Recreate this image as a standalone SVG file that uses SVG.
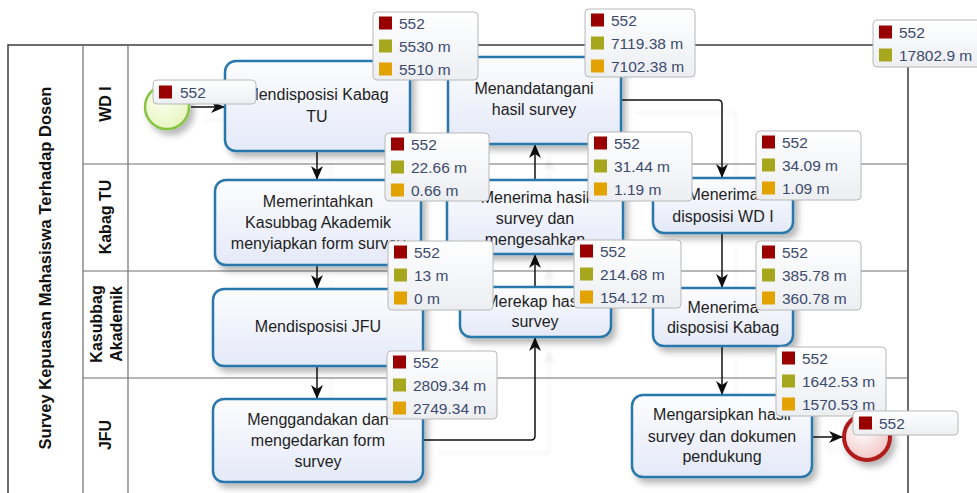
<svg xmlns="http://www.w3.org/2000/svg" width="977" height="493" viewBox="0 0 977 493">
  <defs>
    <linearGradient id="taskFill" x1="0" y1="0" x2="0" y2="1">
      <stop offset="0" stop-color="#fdfdff"/>
      <stop offset="1" stop-color="#e4e9f8"/>
    </linearGradient>
    <linearGradient id="statFill" x1="0" y1="0" x2="0" y2="1">
      <stop offset="0" stop-color="#ffffff"/>
      <stop offset="1" stop-color="#eceef2"/>
    </linearGradient>
    <radialGradient id="startFill" cx="0.4" cy="0.35" r="0.7">
      <stop offset="0" stop-color="#fdfff0"/>
      <stop offset="1" stop-color="#e6f5bd"/>
    </radialGradient>
    <radialGradient id="endFill" cx="0.4" cy="0.35" r="0.7">
      <stop offset="0" stop-color="#ffffff"/>
      <stop offset="1" stop-color="#f3c3c3"/>
    </radialGradient>
    <filter id="shadow" x="-20%" y="-20%" width="150%" height="160%">
      <feDropShadow dx="4" dy="5" stdDeviation="3" flood-color="#000" flood-opacity="0.28"/>
    </filter>
    <filter id="ghost" x="-20%" y="-20%" width="150%" height="150%">
      <feDropShadow dx="14" dy="13" stdDeviation="1.5" flood-color="#000" flood-opacity="0.06"/>
    </filter>
    <marker id="arrow" viewBox="0 0 14 12" refX="14" refY="6" markerWidth="14" markerHeight="12" markerUnits="userSpaceOnUse" orient="auto">
      <path d="M0,0 L14,6 L0,12 L4,6 Z" fill="#111"/>
    </marker>
    <style>
      .pool-line { stroke:#3c3c3c; stroke-width:1.5; fill:none; }
      .lane-line { stroke:#6e6e6e; stroke-width:1.2; fill:none; }
      .title { font-family:"Liberation Sans", Arial, sans-serif; font-weight:bold; font-size:16px; fill:#111; text-anchor:middle; }
      .pool-title { font-size:16.5px; }
      .task rect { fill:url(#taskFill); stroke:#2a77ab; stroke-width:2.5; filter:url(#shadow); }
      .task text { font-family:"Liberation Sans", Arial, sans-serif; font-size:16px; fill:#1e1e1e; text-anchor:middle; }
      .flow { stroke:#111; stroke-width:1.5; fill:none; marker-end:url(#arrow); }
      .stat rect.box { fill:url(#statFill); stroke:#b8b8b8; stroke-width:1; }
      .stat text { font-family:"Liberation Sans", Arial, sans-serif; font-size:15.5px; fill:#3c4a6e; }
      .sq-count { fill:#990000; }
      .sq-total { fill:#a7a71e; }
      .sq-avg { fill:#e2a300; }
    </style>
  </defs>

  <rect width="977" height="493" fill="#ffffff"/>

  <!-- pool and lanes -->
  <g id="pool">
    <path class="pool-line" d="M8,493 V45 H908 V493"/>
    <path class="lane-line" d="M83,45 V493 M128,45 V493"/>
    <path class="lane-line" d="M83,164 H908 M83,271 H908 M83,378 H908"/>
    <text class="title pool-title" transform="translate(45,268) rotate(-90)" y="6">Survey Kepuasan Mahasiswa Terhadap Dosen</text>
  </g>
  <g id="lane-wd1"><text class="title" transform="translate(105,104) rotate(-90)" y="6">WD I</text></g>
  <g id="lane-kabag-tu"><text class="title" transform="translate(105,217) rotate(-90)" y="6">Kabag TU</text></g>
  <g id="lane-kasubbag">
    <text class="title" transform="translate(96,324) rotate(-90)" y="6">Kasubbag</text>
    <text class="title" transform="translate(116,324) rotate(-90)" y="6">Akademik</text>
  </g>
  <g id="lane-jfu"><text class="title" transform="translate(105,435) rotate(-90)" y="6">JFU</text></g>

  <!-- sequence flows -->
  <g id="connectors">
    <g filter="url(#ghost)">
      <path class="flow" d="M191,107 H225"/>
      <path class="flow" d="M317,151 V180"/>
      <path class="flow" d="M317,265 V289"/>
      <path class="flow" d="M317,366 V399"/>
      <path class="flow" d="M423,440 H531 Q535,440 535,436 V337"/>
      <path class="flow" d="M535,287 V254"/>
      <path class="flow" d="M535,180 V144"/>
      <path class="flow" d="M621,100 H718 Q722,100 722,104 V178"/>
      <path class="flow" d="M722,233 V288"/>
      <path class="flow" d="M722,346 V395"/>
      <path class="flow" d="M812,437 H843"/>
    </g>
  </g>

  <!-- events -->
  <g id="start">
    <circle cx="167" cy="107" r="22" fill="url(#startFill)" stroke="#86c443" stroke-width="2.5" filter="url(#shadow)"/>
  </g>
  <g id="end">
    <circle cx="867" cy="437" r="23" fill="url(#endFill)" stroke="#b01c1c" stroke-width="4" filter="url(#shadow)"/>
  </g>

  <!-- tasks -->
  <g id="task-disposisi-kabag-tu" class="task">
    <rect x="225" y="61" width="185" height="90" rx="11"/>
    <text x="317" y="100">Mendisposisi Kabag</text>
    <text x="317" y="122">TU</text>
  </g>
  <g id="task-memerintahkan" class="task">
    <rect x="215" y="180" width="206" height="85" rx="11"/>
    <text x="318" y="207">Memerintahkan</text>
    <text x="318" y="228">Kasubbag Akademik</text>
    <text x="318" y="249">menyiapkan form survey</text>
  </g>
  <g id="task-disposisi-jfu" class="task">
    <rect x="213" y="289" width="210" height="77" rx="11"/>
    <text x="318" y="332">Mendisposisi JFU</text>
  </g>
  <g id="task-menggandakan" class="task">
    <rect x="213" y="399" width="210" height="83" rx="11"/>
    <text x="318" y="425">Menggandakan dan</text>
    <text x="318" y="446">mengedarkan form</text>
    <text x="318" y="467">survey</text>
  </g>
  <g id="task-menandatangani" class="task">
    <rect x="448" y="57" width="173" height="87" rx="11"/>
    <text x="534" y="94">Menandatangani</text>
    <text x="534" y="115">hasil survey</text>
  </g>
  <g id="task-menerima-hasil" class="task">
    <rect x="447" y="180" width="176" height="74" rx="11"/>
    <text x="535" y="203">Menerima hasil</text>
    <text x="535" y="224">survey dan</text>
    <text x="535" y="245">mengesahkan</text>
  </g>
  <g id="task-merekap" class="task">
    <rect x="460" y="287" width="151" height="50" rx="11"/>
    <text x="535" y="307">Merekap hasil</text>
    <text x="535" y="327">survey</text>
  </g>
  <g id="task-terima-wd1" class="task">
    <rect x="653" y="178" width="140" height="55" rx="11"/>
    <text x="723" y="200">Menerima</text>
    <text x="723" y="222">disposisi WD I</text>
  </g>
  <g id="task-terima-kabag" class="task">
    <rect x="653" y="288" width="140" height="58" rx="11"/>
    <text x="723" y="313">Menerima</text>
    <text x="723" y="333">disposisi Kabag</text>
  </g>
  <g id="task-mengarsipkan" class="task">
    <rect x="632" y="395" width="180" height="82" rx="11"/>
    <text x="722" y="420">Mengarsipkan hasil</text>
    <text x="722" y="442">survey dan dokumen</text>
    <text x="722" y="462">pendukung</text>
  </g>

  <!-- simulation statistics -->
  <g id="stat-start" class="stat" transform="translate(153,80)">
    <rect class="box" width="103" height="24" rx="4"/>
    <rect class="sq-count" x="6" y="5.5" width="13" height="13"/>
    <text x="27" y="17.5">552</text>
  </g>
  <g id="stat-disposisi-kabag-tu" class="stat" transform="translate(373,12)">
    <rect class="box" width="105" height="68" rx="4"/>
    <rect class="sq-count" x="6" y="4.5" width="13" height="13"/>
    <rect class="sq-total" x="6" y="27.5" width="13" height="13"/>
    <rect class="sq-avg" x="6" y="50.5" width="13" height="13"/>
    <text x="26" y="16.5">552</text>
    <text x="26" y="39.5">5530 m</text>
    <text x="26" y="62.5">5510 m</text>
  </g>
  <g id="stat-menandatangani" class="stat" transform="translate(585,9)">
    <rect class="box" width="110" height="68" rx="4"/>
    <rect class="sq-count" x="6" y="4.5" width="13" height="13"/>
    <rect class="sq-total" x="6" y="27.5" width="13" height="13"/>
    <rect class="sq-avg" x="6" y="50.5" width="13" height="13"/>
    <text x="26" y="16.5">552</text>
    <text x="26" y="39.5">7119.38 m</text>
    <text x="26" y="62.5">7102.38 m</text>
  </g>
  <g id="stat-process" class="stat" transform="translate(873,20)">
    <rect class="box" width="108" height="47" rx="4"/>
    <rect class="sq-count" x="6" y="5.5" width="13" height="13"/>
    <rect class="sq-total" x="6" y="28.5" width="13" height="13"/>
    <text x="26" y="17.5">552</text>
    <text x="26" y="40.5">17802.9 m</text>
  </g>
  <g id="stat-memerintahkan" class="stat" transform="translate(385,133)">
    <rect class="box" width="104" height="68" rx="4"/>
    <rect class="sq-count" x="6" y="4.5" width="13" height="13"/>
    <rect class="sq-total" x="6" y="27.5" width="13" height="13"/>
    <rect class="sq-avg" x="6" y="50.5" width="13" height="13"/>
    <text x="26" y="16.5">552</text>
    <text x="26" y="39.5">22.66 m</text>
    <text x="26" y="62.5">0.66 m</text>
  </g>
  <g id="stat-menerima-hasil" class="stat" transform="translate(588,132)">
    <rect class="box" width="104" height="69" rx="4"/>
    <rect class="sq-count" x="6" y="4.5" width="13" height="13"/>
    <rect class="sq-total" x="6" y="27.5" width="13" height="13"/>
    <rect class="sq-avg" x="6" y="50.5" width="13" height="13"/>
    <text x="26" y="16.5">552</text>
    <text x="26" y="39.5">31.44 m</text>
    <text x="26" y="62.5">1.19 m</text>
  </g>
  <g id="stat-terima-wd1" class="stat" transform="translate(756,131)">
    <rect class="box" width="105" height="69" rx="4"/>
    <rect class="sq-count" x="6" y="4.5" width="13" height="13"/>
    <rect class="sq-total" x="6" y="27.5" width="13" height="13"/>
    <rect class="sq-avg" x="6" y="50.5" width="13" height="13"/>
    <text x="26" y="16.5">552</text>
    <text x="26" y="39.5">34.09 m</text>
    <text x="26" y="62.5">1.09 m</text>
  </g>
  <g id="stat-disposisi-jfu" class="stat" transform="translate(388,241)">
    <rect class="box" width="105" height="69" rx="4"/>
    <rect class="sq-count" x="6" y="4.5" width="13" height="13"/>
    <rect class="sq-total" x="6" y="27.5" width="13" height="13"/>
    <rect class="sq-avg" x="6" y="50.5" width="13" height="13"/>
    <text x="26" y="16.5">552</text>
    <text x="26" y="39.5">13 m</text>
    <text x="26" y="62.5">0 m</text>
  </g>
  <g id="stat-merekap" class="stat" transform="translate(574,240)">
    <rect class="box" width="107" height="68" rx="4"/>
    <rect class="sq-count" x="6" y="4.5" width="13" height="13"/>
    <rect class="sq-total" x="6" y="27.5" width="13" height="13"/>
    <rect class="sq-avg" x="6" y="50.5" width="13" height="13"/>
    <text x="26" y="16.5">552</text>
    <text x="26" y="39.5">214.68 m</text>
    <text x="26" y="62.5">154.12 m</text>
  </g>
  <g id="stat-terima-kabag" class="stat" transform="translate(756,241)">
    <rect class="box" width="105" height="69" rx="4"/>
    <rect class="sq-count" x="6" y="4.5" width="13" height="13"/>
    <rect class="sq-total" x="6" y="27.5" width="13" height="13"/>
    <rect class="sq-avg" x="6" y="50.5" width="13" height="13"/>
    <text x="26" y="16.5">552</text>
    <text x="26" y="39.5">385.78 m</text>
    <text x="26" y="62.5">360.78 m</text>
  </g>
  <g id="stat-menggandakan" class="stat" transform="translate(387,351)">
    <rect class="box" width="110" height="68" rx="4"/>
    <rect class="sq-count" x="6" y="4.5" width="13" height="13"/>
    <rect class="sq-total" x="6" y="27.5" width="13" height="13"/>
    <rect class="sq-avg" x="6" y="50.5" width="13" height="13"/>
    <text x="26" y="16.5">552</text>
    <text x="26" y="39.5">2809.34 m</text>
    <text x="26" y="62.5">2749.34 m</text>
  </g>
  <g id="stat-mengarsipkan" class="stat" transform="translate(776,347)">
    <rect class="box" width="110" height="69" rx="4"/>
    <rect class="sq-count" x="6" y="4.5" width="13" height="13"/>
    <rect class="sq-total" x="6" y="27.5" width="13" height="13"/>
    <rect class="sq-avg" x="6" y="50.5" width="13" height="13"/>
    <text x="26" y="16.5">552</text>
    <text x="26" y="39.5">1642.53 m</text>
    <text x="26" y="62.5">1570.53 m</text>
  </g>
  <g id="stat-end" class="stat" transform="translate(853,411)">
    <rect class="box" width="105" height="24" rx="4"/>
    <rect class="sq-count" x="6" y="5.5" width="13" height="13"/>
    <text x="26" y="17.5">552</text>
  </g>
</svg>
